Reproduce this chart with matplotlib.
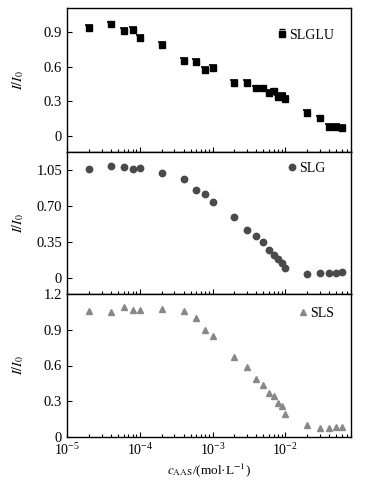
import matplotlib
matplotlib.use("Agg")
import matplotlib.pyplot as plt
from matplotlib.ticker import LogLocator, NullFormatter
from matplotlib.lines import Line2D
from matplotlib.path import Path

plt.rcParams['font.family'] = ['Liberation Serif', 'DejaVu Serif']
plt.rcParams['mathtext.fontset'] = 'stix'
plt.rcParams['font.size'] = 9.5

# ============================
# DATA
# ============================
conc = [2e-5, 4e-5, 6e-5, 8e-5, 1e-4, 2e-4, 4e-4, 6e-4, 8e-4, 1e-3,
        2e-3, 3e-3, 4e-3, 5e-3, 6e-3, 7e-3, 8e-3, 9e-3, 1e-2,
        2e-2, 3e-2, 4e-2, 5e-2, 6e-2]

slglu = [0.935, 0.967, 0.909, 0.923, 0.848, 0.787, 0.647, 0.645, 0.575, 0.589,
         0.462, 0.456, 0.412, 0.412, 0.369, 0.386, 0.334, 0.348, 0.322,
         0.200, 0.151, 0.078, 0.075, 0.067]
slglu_err = [0.025] * len(conc)

slg = [1.056, 1.089, 1.082, 1.063, 1.066, 1.021, 0.962, 0.861, 0.813, 0.741,
       0.595, 0.471, 0.413, 0.348, 0.273, 0.228, 0.182, 0.143, 0.098,
       0.042, 0.046, 0.052, 0.055, 0.059]

sls = [1.058, 1.052, 1.089, 1.064, 1.069, 1.078, 1.058, 0.996, 0.899, 0.848,
       0.670, 0.584, 0.488, 0.440, 0.369, 0.346, 0.284, 0.258, 0.190,
       0.099, 0.074, 0.077, 0.082, 0.082]

yticks_top = [0, 0.3, 0.6, 0.9]
yticks_mid = [0, 0.35, 0.70, 1.05]
yticks_bot = [0, 0.3, 0.6, 0.9, 1.2]

# ============================
# FIGURE
# ============================
fig = plt.figure(figsize=(3.75, 4.88), dpi=100)
left, width = 67 / 375, 284 / 375
ax1 = fig.add_axes([left, 1 - 152 / 488, width, 144 / 488])
ax2 = fig.add_axes([left, 1 - 294 / 488, width, 142 / 488])
ax3 = fig.add_axes([left, 1 - 437 / 488, width, 143 / 488])

# SLGLU: squares with upper error bar only
eb = ax1.errorbar(conc, slglu, yerr=[[0] * len(conc), slglu_err], fmt='s',
                  color='black', ms=4.6, capsize=3.2, capthick=1.2, elinewidth=0.6)
eb[1][0].set_visible(False)   # hide lower caps

# legend symbol: square with a cap above it
sq_cap = Path([(-1, -1), (1, -1), (1, 1), (-1, 1), (-1, -1), (-1, 1.8), (1, 1.8)],
              [Path.MOVETO, Path.LINETO, Path.LINETO, Path.LINETO, Path.CLOSEPOLY,
               Path.MOVETO, Path.LINETO])
h1 = Line2D([], [], marker=sq_cap, color='black', ls='none', ms=6.5, mew=1.0)

ax2.plot(conc, slg, 'o', color='#4a4a4a', ms=4.6, label='SLG')
ax3.plot(conc, sls, '^', color='#888888', ms=5, label='SLS')

ax1.set_ylim(-0.14, 1.11)
ax2.set_ylim(-0.153, 1.225)
ax3.set_ylim(0, 1.2)
ax1.set_yticks(yticks_top)
ax1.set_yticklabels(['0', '0.3', '0.6', '0.9'])
ax2.set_yticks(yticks_mid)
ax2.set_yticklabels(['0', '0.35', '0.70', '1.05'])
ax3.set_yticks(yticks_bot)
ax3.set_yticklabels(['0', '0.3', '0.6', '0.9', '1.2'])

legend_pos = [(0.94, 0.81), (0.91, 0.885), (0.94, 0.862)]
for ax, pos in zip([ax1, ax2, ax3], legend_pos):
    ax.set_xscale('log')
    ax.set_xlim(1e-5, 0.08)
    ax.xaxis.set_major_locator(LogLocator(base=10, numticks=10))
    ax.xaxis.set_minor_locator(LogLocator(base=10, subs=range(2, 10), numticks=20))
    ax.xaxis.set_minor_formatter(NullFormatter())
    ax.tick_params(axis='both', which='major', direction='in', length=3.5, width=0.8)
    ax.tick_params(axis='y', labelsize=10.5)
    ax.tick_params(axis='x', labelsize=10)
    ax.tick_params(axis='x', which='minor', direction='in', length=2, width=0.8)
    for s in ax.spines.values():
        s.set_linewidth(1.0)
    ax.set_ylabel(r'$I/I_0$', fontsize=10)
    ax.yaxis.set_label_coords(-0.145, 0.5)
    kw = dict(loc='center right', bbox_to_anchor=pos, frameon=False,
              handlelength=0.6, handletextpad=0.2, borderaxespad=0,
              borderpad=0, fontsize=10)
    if ax is ax1:
        ax.legend([h1], ['SLGLU'], **kw)
    else:
        ax.legend(**kw)

ax1.tick_params(axis='x', labelbottom=False)
ax2.tick_params(axis='x', labelbottom=False)
ax3.set_xlabel(r'$c_{\rm AAS}$/(mol·L$^{-1}$)', labelpad=3)

fig.savefig("out.png", dpi=100)
